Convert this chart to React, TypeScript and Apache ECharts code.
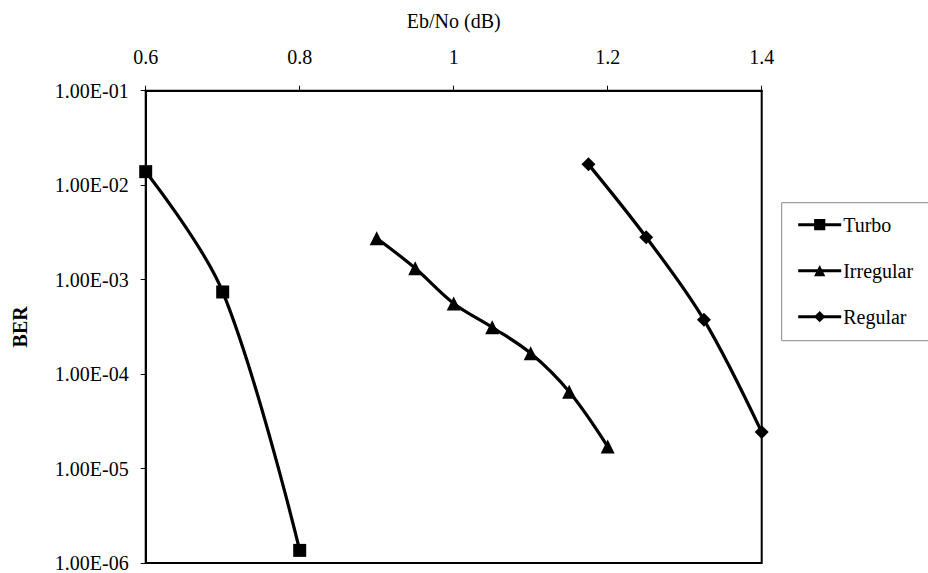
import React, { useEffect, useRef } from "react";
import * as echarts from "echarts";

const turboX = [0.6, 0.7, 0.8];
const turboY = [1.39e-2, 7.4e-4, 1.36e-6];
const irregularX = [0.9, 0.95, 1.0, 1.05, 1.1, 1.15, 1.2];
const irregularY = [2.74e-3, 1.32e-3, 5.6e-4, 3.13e-4, 1.66e-4, 6.5e-5, 1.71e-5];
const regularX = [1.175, 1.25, 1.325, 1.4];
const regularY = [1.66e-2, 2.81e-3, 3.75e-4, 2.43e-5];

const seriesNames = ["Turbo", "Irregular", "Regular"];
const xTitle = "Eb/No (dB)";
const yTitle = "BER";

const FONT = "'Liberation Serif', 'Times New Roman', 'DejaVu Serif', serif";

function pairs(xs: number[], ys: number[]) {
  return xs.map((x, i) => [x, ys[i]]);
}

function fmtExp(v: number) {
  const e = Math.round(Math.log10(v));
  const sign = e < 0 ? "-" : "+";
  return `1.00E${sign}${String(Math.abs(e)).padStart(2, "0")}`;
}

export default function App() {
  const ref = useRef<HTMLDivElement>(null);
  useEffect(() => {
    if (!ref.current) return;
    const chart = echarts.init(ref.current, null, { renderer: "svg" });
    const lineBase = {
      type: "line" as const,
      smooth: 0.35,
      clip: false,
      lineStyle: { color: "#000", width: 3.2 },
      itemStyle: { color: "#000" },
      emphasis: { disabled: true },
    };
    chart.setOption({
      animation: false,
      backgroundColor: "#fff",
      textStyle: { fontFamily: FONT },
      grid: {
        left: 145.7,
        top: 90.7,
        right: 928 - 761.7,
        bottom: 573 - 563.3,
        show: true,
        borderColor: "#000",
        borderWidth: 2,
        containLabel: false,
      },
      xAxis: {
        type: "value",
        position: "top",
        min: 0.6,
        max: 1.4,
        interval: 0.2,
        name: xTitle,
        nameLocation: "middle",
        nameGap: 60,
        nameTextStyle: { fontFamily: FONT, fontSize: 20, color: "#000" },
        axisLine: { show: true, lineStyle: { color: "#000", width: 2 } },
        axisTick: { show: true, inside: false, length: 5, lineStyle: { color: "#000", width: 1 } },
        axisLabel: { fontFamily: FONT, fontSize: 20, color: "#000", margin: 24 },
        splitLine: { show: false },
      },
      yAxis: {
        type: "log",
        logBase: 10,
        min: 1e-6,
        max: 1e-1,
        name: yTitle,
        nameLocation: "middle",
        nameGap: 116,
        nameRotate: 90,
        nameTextStyle: { fontFamily: FONT, fontSize: 20, color: "#000", fontWeight: "bold" },
        axisLine: { show: true, lineStyle: { color: "#000", width: 2 } },
        axisTick: { show: true, inside: false, length: 5, lineStyle: { color: "#000", width: 1 } },
        axisLabel: { fontFamily: FONT, fontSize: 20, color: "#000", margin: 17, formatter: fmtExp },
        splitLine: { show: false },
        minorTick: { show: false },
      },
      legend: {
        orient: "vertical",
        left: 781.7,
        top: 202.7,
        data: seriesNames,
        padding: [12, 60, 14, 15],
        itemGap: 26,
        itemWidth: 43,
        itemHeight: 14,
        borderColor: "#888",
        borderWidth: 1,
        lineStyle: { width: 3, color: "#000" },
        itemStyle: { color: "#000" },
        textStyle: { fontFamily: FONT, fontSize: 20, color: "#000", padding: [0, 0, 0, -3] },
        selectedMode: false,
      },
      series: [
        { ...lineBase, name: seriesNames[0], symbol: "rect", symbolSize: 13, data: pairs(turboX, turboY) },
        { ...lineBase, name: seriesNames[1], symbol: "triangle", symbolSize: 14, data: pairs(irregularX, irregularY) },
        { ...lineBase, name: seriesNames[2], symbol: "diamond", symbolSize: 14, data: pairs(regularX, regularY) },
      ],
    });
    return () => chart.dispose();
  }, []);
  return (
    <div
      ref={ref}
      style={{ position: "fixed", left: 0, top: 0, width: 928, height: 573, background: "#fff" }}
    />
  );
}
